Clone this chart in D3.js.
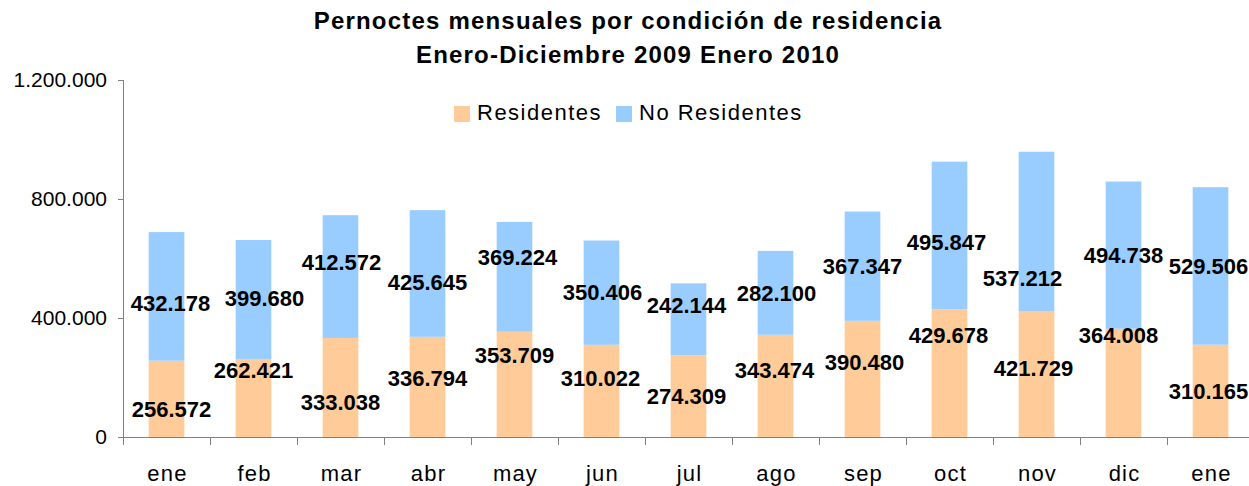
<!DOCTYPE html>
<html>
<head>
<meta charset="utf-8">
<script src="https://cdn.jsdelivr.net/npm/d3@7"></script>
<style>
  body { margin: 0; background: #fff; }
  svg { font-family: "Liberation Sans", Arial, sans-serif; }
</style>
</head>
<body>
<div id="chart"></div>
<script>
// months (ene 2009 .. ene 2010)
var months = ["ene", "feb", "mar", "abr", "may", "jun", "jul", "ago", "sep", "oct", "nov", "dic", "ene "];
var residentes = [256572, 262421, 333038, 336794, 353709, 310022, 274309, 343474, 390480, 429678, 421729, 364008, 310165];
var noResidentes = [432178, 399680, 412572, 425645, 369224, 350406, 242144, 282100, 367347, 495847, 537212, 494738, 529506];
var yTicks = [0, 400000, 800000, 1200000];

// hand-placed label nudges [dx, dy] in px, as in the original chart
var nudgeRes = [[5,10],[0,-28],[0,15],[0,-9],[0,-29],[-1,-13],[-2,0],[-1,-16],[2,-17],[-1,-38],[-3,-6],[-5,-48],[-2,0]];
var nudgeNoRes = [[4,7],[11,-1],[1,-14],[0,9],[3,-20],[1,-1],[-2,-14],[1,0],[0,0],[-3,7],[-14,46],[0,0],[-2,0]];

var W = 1249, H = 486;
var svg = d3.select("#chart").append("svg")
    .attr("width", W)
    .attr("height", H);

var locale = d3.formatLocale({ decimal: ",", thousands: ".", grouping: [3], currency: ["", ""] });
var fmt = locale.format(",d");

var x = d3.scaleBand()
    .domain(months)
    .range([123, 1254])
    .paddingInner(0.59)
    .paddingOuter(0.295);

var y = d3.scaleLinear()
    .domain([0, 1200000])
    .range([437, 80]);

var data = months.map(function (m, i) {
    return { m: m, res: residentes[i], nores: noResidentes[i], i: i };
});

// title
var title = svg.append("text")
    .attr("text-anchor", "middle")
    .style("font-size", "24px")
    .style("font-weight", "bold")
    .style("letter-spacing", "1.2px")
    .attr("fill", "#000");
title.append("tspan").attr("x", 628).attr("y", 29).text("Pernoctes mensuales por condición de residencia");
title.append("tspan").attr("x", 628).attr("y", 63).text("Enero-Diciembre 2009 Enero 2010");

// bars
var cx = function (d) { return x(d.m) + x.bandwidth() / 2; };

svg.selectAll(".res")
    .data(data)
    .enter().append("rect")
    .attr("class", "res")
    .attr("x", function (d) { return x(d.m); })
    .attr("width", x.bandwidth())
    .attr("y", function (d) { return y(d.res); })
    .attr("height", function (d) { return y(0) - y(d.res); })
    .attr("fill", "#FFCC99");

svg.selectAll(".nores")
    .data(data)
    .enter().append("rect")
    .attr("class", "nores")
    .attr("x", function (d) { return x(d.m); })
    .attr("width", x.bandwidth())
    .attr("y", function (d) { return y(d.res + d.nores); })
    .attr("height", function (d) { return y(d.res) - y(d.res + d.nores); })
    .attr("fill", "#99CCFF");

// y axis
var axisColor = "#808080";
svg.append("line")
    .attr("x1", 123.5).attr("x2", 123.5)
    .attr("y1", y(1200000)).attr("y2", y(0))
    .attr("stroke", axisColor);
yTicks.forEach(function (t) {
    svg.append("line")
        .attr("x1", 118).attr("x2", 123.5)
        .attr("y1", Math.round(y(t)) + 0.5).attr("y2", Math.round(y(t)) + 0.5)
        .attr("stroke", axisColor);
    svg.append("text")
        .attr("x", 107)
        .attr("y", y(t))
        .attr("dy", "0.35em")
        .attr("text-anchor", "end")
        .style("font-size", "21px")
        .attr("fill", "#000")
        .text(fmt(t));
});

// x axis
svg.append("line")
    .attr("x1", 123).attr("x2", W)
    .attr("y1", 437.5).attr("y2", 437.5)
    .attr("stroke", axisColor);
var step = x.step();
months.forEach(function (m) {
    var bx = Math.round(x(m) + x.bandwidth() / 2 - step / 2) + 0.5;
    svg.append("line")
        .attr("x1", bx).attr("x2", bx)
        .attr("y1", 437).attr("y2", 445)
        .attr("stroke", axisColor);
});
svg.selectAll(".xlab")
    .data(data)
    .enter().append("text")
    .attr("class", "xlab")
    .attr("x", function (d) { return cx(d) + 1; })
    .attr("y", 481)
    .attr("text-anchor", "middle")
    .style("font-size", "22px")
    .style("letter-spacing", "1.2px")
    .attr("fill", "#000")
    .text(function (d) { return d.m.trim(); });

// value labels
svg.selectAll(".lres")
    .data(data)
    .enter().append("text")
    .attr("x", function (d) { return cx(d) + nudgeRes[d.i][0]; })
    .attr("y", function (d) { return (y(0) + y(d.res)) / 2 + nudgeRes[d.i][1]; })
    .attr("dy", "0.36em")
    .attr("text-anchor", "middle")
    .style("font-size", "22px")
    .style("font-weight", "bold")
    .attr("fill", "#000")
    .text(function (d) { return fmt(d.res); });

svg.selectAll(".lnores")
    .data(data)
    .enter().append("text")
    .attr("x", function (d) { return cx(d) + nudgeNoRes[d.i][0]; })
    .attr("y", function (d) { return (y(d.res) + y(d.res + d.nores)) / 2 + nudgeNoRes[d.i][1]; })
    .attr("dy", "0.36em")
    .attr("text-anchor", "middle")
    .style("font-size", "22px")
    .style("font-weight", "bold")
    .attr("fill", "#000")
    .text(function (d) { return fmt(d.nores); });

// legend
var legend = [
    { name: "Residentes", color: "#FFCC99", x: 454 },
    { name: "No Residentes", color: "#99CCFF", x: 616 }
];
legend.forEach(function (l) {
    svg.append("rect")
        .attr("x", l.x).attr("y", 106)
        .attr("width", 16).attr("height", 16)
        .attr("fill", l.color);
    svg.append("text")
        .attr("x", l.x + 23)
        .attr("y", 120)
        .style("font-size", "22px")
        .style("letter-spacing", "1.5px")
        .attr("fill", "#000")
        .text(l.name);
});
</script>
</body>
</html>
